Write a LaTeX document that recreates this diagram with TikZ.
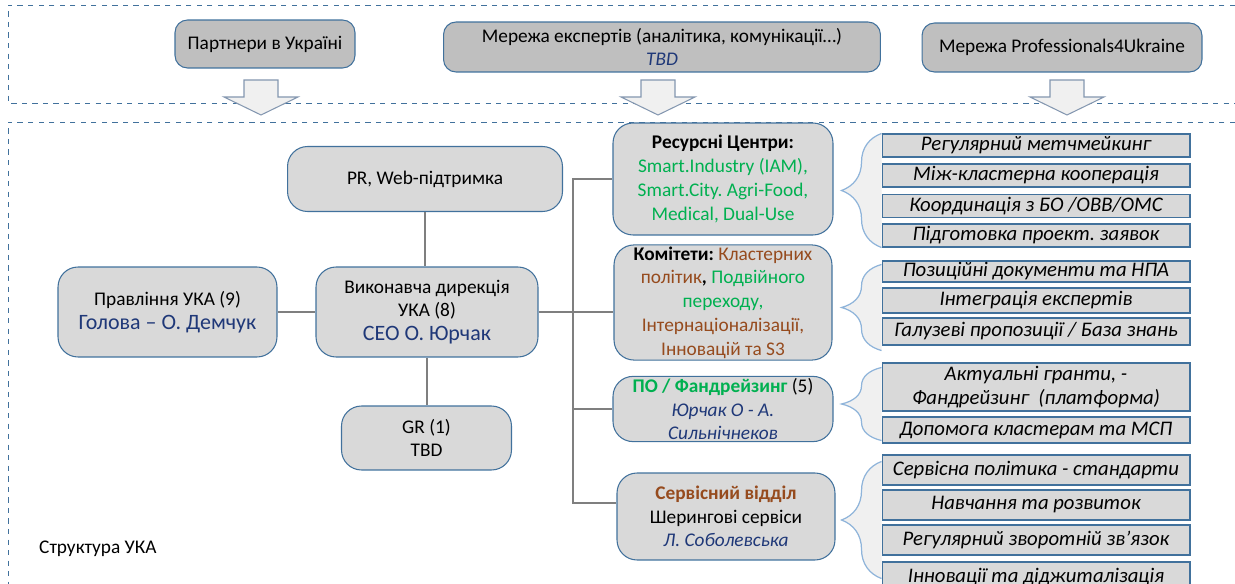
\documentclass[tikz,border=0pt]{standalone}
\usepackage{fontspec}
\setmainfont{Carlito}
\usetikzlibrary{decorations.pathreplacing}
\definecolor{boxline}{RGB}{65,113,156}
\definecolor{boxfill}{RGB}{217,217,217}
\definecolor{topfill}{RGB}{191,191,191}
\definecolor{linkgray}{RGB}{127,127,127}
\definecolor{nameblue}{RGB}{31,56,120}
\definecolor{ukgreen}{RGB}{0,176,80}
\definecolor{ukbrown}{RGB}{150,75,30}
\definecolor{braceblue}{RGB}{143,180,218}
\definecolor{arrowline}{RGB}{132,151,176}
\newcommand{\bigname}[1]{{\fontsize{12.5}{15}\selectfont\color{nameblue}#1}}
\newcommand{\smallname}[1]{\textit{\textcolor{nameblue}{#1}}}
\frenchspacing

\begin{document}
\begin{tikzpicture}[x=0.02cm, y=-0.02cm,
	font=\fontsize{11}{13.5}\selectfont,
	box/.style={draw=boxline, fill=boxfill, rounded corners=0.4cm, align=center, line width=0.6pt, inner sep=1pt},
	topbox/.style={box, fill=topfill, rounded corners=0.25cm},
	item/.style={draw=boxline, fill=boxfill, minimum width=6.16cm, align=center, font=\fontsize{11.8}{14}\selectfont\itshape, inner sep=0pt, line width=0.6pt},
	link/.style={draw=linkgray, line width=1.4pt},
	curly/.style={draw=braceblue, fill=black!6, line width=0.7pt, decorate, decoration={brace, amplitude=0.8cm}},
	blockarrow/.style={draw=arrowline, fill=black!6, line width=0.6pt},
	zone/.style={draw=boxline, dashed, line width=0.5pt}]
	%\draw[help lines] (0,0) grid[step=1cm] (1235,584);
	\useasboundingbox (0,0) rectangle (1235,584);
	\draw[zone] (1235,5) -| (8,103) -- (1235,103);
	\draw[zone] (1235,122) -| (8,584);

	% partners on top
	\node[topbox, minimum width=3.6cm, minimum height=0.96cm] (partners) at (265,44) {Партнери в Україні};
	\node[topbox, minimum width=8.74cm, minimum height=1cm] (experts) at (662,47) {Мережа експертів (аналітика, комунікації…)\\\smallname{TBD}};
	\node[topbox, minimum width=5.6cm, minimum height=0.98cm] (prof) at (1062,47.5) {Мережа Professionals4Ukraine};
	\foreach \x in {261,658,1067}
		\draw[blockarrow] (\x-17,80) -- (\x+17,80) -- (\x+17,97) -- (\x+37,97) -- (\x,115) -- (\x-37,97) -- (\x-17,97) -- cycle;

	% management
	\node[box, minimum width=5.5cm, minimum height=1.3cm] (pr) at (425,179) {PR, Web-підтримка};
	\node[box, minimum width=4.44cm, minimum height=1.8cm] (exec) at (427,312) {Виконавча дирекція\\УКА (8)\\\bigname{CEO О. Юрчак}};
	\node[box, minimum width=4.38cm, minimum height=1.8cm] (board) at (167.5,312) {Правління УКА (9)\\\bigname{Голова – О. Демчук}};
	\node[box, minimum width=3.4cm, minimum height=1.28cm] (gr) at (426.5,438) {GR (1)\\TBD};

	% departments
	\node[box, minimum width=4.4cm, minimum height=2.24cm] (rescent) at (723,179) {\textbf{Ресурсні Центри:}\\\textcolor{ukgreen}{Smart.Industry (IAM),}\\\textcolor{ukgreen}{Smart.City. Agri-Food,}\\\textcolor{ukgreen}{Medical, Dual-Use}};
	\node[box, minimum width=4.36cm, minimum height=2.24cm] (committees) at (723,302.5) {\textbf{Комітети:} \textcolor{ukbrown}{Кластерних}\\\textcolor{ukbrown}{політик}\textbf{,} \textcolor{ukgreen}{Подвійного}\\\textcolor{ukgreen}{переходу,}\\\textcolor{ukbrown}{Інтернаціоналізації,}\\\textcolor{ukbrown}{Інновацій та S3}};
	\node[box, minimum width=4.4cm, minimum height=1.3cm] (fund) at (723,409) {\textbf{\textcolor{ukgreen}{ПО / Фандрейзинг}} (5)\\\smallname{Юрчак О - А.}\\\smallname{Сильнічнеков}};
	\node[box, minimum width=4.36cm, minimum height=1.74cm] (service) at (726,516.5) {\textbf{\textcolor{ukbrown}{Сервісний відділ}}\\Шерингові сервіси\\\smallname{Л. Соболевська}};

	\draw[link] (pr.south) -- (pr.south |- exec.north);
	\draw[link] (exec.south) -- (exec.south |- gr.north);
	\draw[link] (board) -- (exec);
	\draw[link] (exec.east) -- (exec.east -| committees.west);
	\coordinate (trunk) at (573,0);
	\draw[link] (rescent.west) -- (rescent.west -| trunk) |- ([yshift=0.27cm]service.west);
	\draw[link] (fund.west) -- (fund.west -| trunk);

	% tasks
	\node[item, minimum height=0.46cm] (match) at (1036,145.5) {Регулярний метчмейкинг};
	\node[item, minimum height=0.46cm] (coop) at (1036,175.5) {Між-кластерна кооперація};
	\node[item, minimum height=0.46cm] (coord) at (1036,206) {Координація з БО /ОВВ/ОМС};
	\node[item, minimum height=0.46cm] (apps) at (1036,235.5) {Підготовка проект. заявок};
	\node[item, minimum height=0.42cm] (docs) at (1036,271.5) {Позиційні документи та НПА};
	\node[item, minimum height=0.5cm] (integr) at (1036,300.5) {Інтеграція експертів};
	\node[item, minimum height=0.54cm] (sector) at (1036,331.5) {Галузеві пропозиції / База знань};
	\node[item, minimum height=0.96cm] (grants) at (1036,387) {Актуальні гранти, -\\Фандрейзинг~~(платформа)};
	\node[item, minimum height=0.52cm] (help) at (1036,430) {Допомога кластерам та МСП};
	\node[item, minimum height=0.6cm] (policy) at (1036,470) {Сервісна політика - стандарти};
	\node[item, minimum height=0.6cm] (train) at (1036,505) {Навчання та розвиток};
	\node[item, minimum height=0.6cm] (feedback) at (1036,540) {Регулярний зворотній зв’язок};
	\node[item, minimum height=0.6cm] (digital) at (1036,577) {Інновації та діджиталізація};

	\draw[curly] (apps.south west) -- (match.north west);
	\draw[curly] ([yshift=-0.1cm]sector.south west) -- ([yshift=-0.08cm]docs.north west);
	\draw[curly] ([yshift=0.06cm]help.south west) -- ([yshift=-0.1cm]grants.north west);
	\draw[curly] ([yshift=0.28cm]digital.south west) -- ([yshift=-0.14cm]policy.north west);

	\node[anchor=west] (title) at (33,549) {Структура УКА};
\end{tikzpicture}
\end{document}
